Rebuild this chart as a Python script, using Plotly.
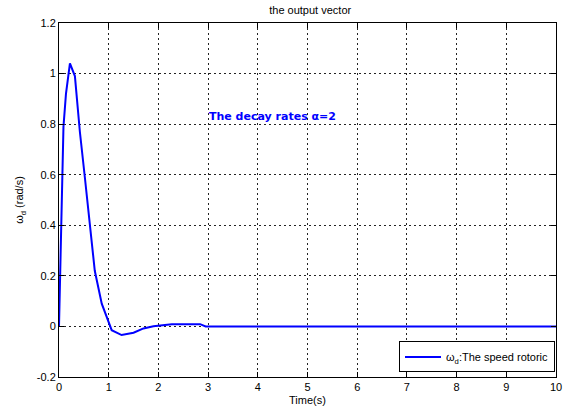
import plotly.graph_objects as go

# time samples (s) and rotor speed (rad/s)
t = [0, 0.02, 0.04, 0.07, 0.09, 0.14, 0.22, 0.32, 0.42, 0.52, 0.62, 0.72, 0.86, 0.96,
     1.06, 1.26, 1.5, 1.7, 1.9, 2.27, 2.84, 2.95, 4, 6, 8, 10]
w = [0, 0.16, 0.39, 0.60, 0.79, 0.92, 1.04, 0.99, 0.77, 0.59, 0.39, 0.22, 0.09, 0.04,
     -0.015, -0.034, -0.025, -0.008, 0.001, 0.009, 0.009, 0.0, 0.0, 0.0, 0.0, 0.0]

x_ticks = [0, 1, 2, 3, 4, 5, 6, 7, 8, 9, 10]
x_ticktext = ["0", "1", "2", "3", "4", "5", "6", "7", "8", "9", "10"]
y_ticks = [-0.2, 0, 0.2, 0.4, 0.6, 0.8, 1.0, 1.2]
y_ticktext = ["-0.2", "0", "0.2", "0.4", "0.6", "0.8", "1", "1.2"]

FONT = "Liberation Sans, Arial, Helvetica, sans-serif"

fig = go.Figure()
fig.add_trace(go.Scatter(
    x=t, y=w, mode="lines",
    line=dict(color="#0000ff", width=2),
    name="ω<sub>d</sub>:The speed rotoric",
))

axis_common = dict(
    showline=True, linecolor="black", linewidth=1, mirror="ticks",
    ticks="inside", ticklen=5, tickcolor="black",
    showgrid=True, gridcolor="#222222", gridwidth=1, griddash="2px,3px",
    zeroline=False, tickfont=dict(family=FONT, size=11, color="black"),
    automargin=False,
)

fig.update_layout(
    width=564, height=408,
    margin=dict(l=59, r=8, t=23, b=31, autoexpand=False),
    paper_bgcolor="white", plot_bgcolor="white",
    font=dict(family=FONT, size=11, color="black"),
    title=dict(text="the output vector", x=0.55, xanchor="center",
               y=0.975, yanchor="middle", yref="container",
               font=dict(family=FONT, size=11, color="black"), automargin=False),
    showlegend=True,
    legend=dict(x=0.998, xanchor="right", y=0.013, yanchor="bottom",
                bgcolor="white", bordercolor="black", borderwidth=1,
                tracegroupgap=0, itemwidth=36,
                font=dict(family=FONT, size=11, color="black")),
    xaxis=dict(range=[0, 10], tickvals=x_ticks, ticktext=x_ticktext,
               title=dict(text="Time(s)", standoff=4, font=dict(family=FONT, size=11)),
               **axis_common),
    yaxis=dict(range=[-0.2, 1.2], tickvals=y_ticks, ticktext=y_ticktext,
               title=dict(text="ω<sub>d</sub> (rad/s)", standoff=10, font=dict(family=FONT, size=11)),
               **axis_common),
)

fig.add_annotation(
    x=4.3, y=0.83, xref="x", yref="y", showarrow=False,
    text="<b>The decay rates α=2</b>",
    font=dict(family="DejaVu Sans, Verdana, sans-serif", size=11, color="#0000ff"),
)

fig.write_html("out.html", config={"displayModeBar": False},
               post_script="document.body.style.margin='0px';")
